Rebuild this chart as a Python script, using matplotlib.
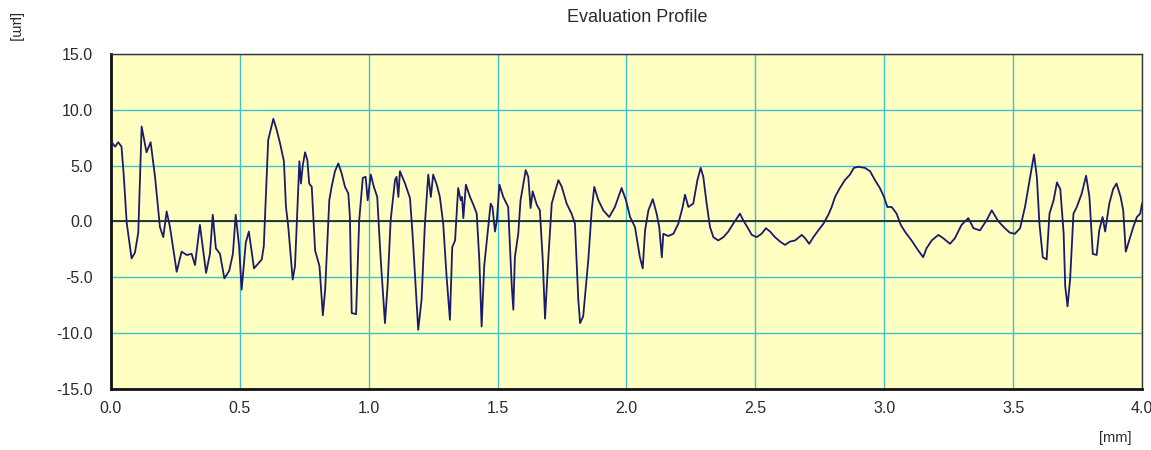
import matplotlib
matplotlib.use("Agg")
import matplotlib.pyplot as plt
import numpy as np

# Evaluation profile: position along the trace [mm] and height [um]
position_mm = [
    0.003, 0.016, 0.028, 0.041, 0.050, 0.061, 0.080, 0.093, 0.106, 0.119,
    0.138, 0.154, 0.171, 0.190, 0.203, 0.216, 0.229, 0.255, 0.274, 0.294,
    0.313, 0.326, 0.345, 0.369, 0.384, 0.395, 0.407, 0.423, 0.440, 0.459,
    0.473, 0.484, 0.497, 0.507, 0.523, 0.535, 0.555, 0.585, 0.593, 0.610,
    0.630, 0.643, 0.656, 0.671, 0.679, 0.688, 0.705, 0.714, 0.723, 0.731,
    0.737, 0.744, 0.753, 0.762, 0.769, 0.779, 0.792, 0.809, 0.822, 0.831,
    0.847, 0.856, 0.869, 0.882, 0.895, 0.908, 0.921, 0.927, 0.934, 0.951,
    0.963, 0.977, 0.988, 0.996, 1.008, 1.020, 1.033, 1.046, 1.063, 1.073,
    1.085, 1.102, 1.108, 1.115, 1.121, 1.141, 1.160, 1.170, 1.192, 1.205,
    1.218, 1.231, 1.241, 1.250, 1.264,
    1.276, 1.289, 1.302, 1.315, 1.324, 1.335, 1.347, 1.357, 1.362, 1.367,
    1.377, 1.393, 1.406, 1.419, 1.429, 1.438, 1.448, 1.461, 1.473, 1.480,
    1.490, 1.497, 1.507, 1.522, 1.541, 1.555, 1.561, 1.567, 1.580, 1.589,
    1.609, 1.619, 1.628, 1.636, 1.652, 1.664, 1.675, 1.684, 1.697, 1.710,
    1.723, 1.736, 1.749, 1.768, 1.787, 1.800, 1.813, 1.820, 1.832, 1.852,
    1.865, 1.875, 1.891, 1.910, 1.933, 1.955,
    1.981, 1.998, 2.014, 2.033, 2.052, 2.063, 2.072, 2.085, 2.102, 2.117,
    2.127, 2.137, 2.143, 2.162, 2.182, 2.201, 2.218, 2.227, 2.240, 2.259,
    2.275, 2.288, 2.298, 2.311, 2.324, 2.337, 2.356, 2.376, 2.395, 2.414,
    2.440, 2.453, 2.469, 2.486, 2.505, 2.524, 2.541, 2.557, 2.576,
    2.596, 2.615, 2.634, 2.654, 2.680, 2.693, 2.709, 2.725, 2.744, 2.764,
    2.783, 2.796, 2.809, 2.828, 2.847, 2.867, 2.882, 2.899, 2.925, 2.945,
    2.964, 2.983, 2.999, 3.012, 3.029, 3.048, 3.064, 3.080, 3.106, 3.132,
    3.151, 3.164, 3.184, 3.210, 3.229,
    3.255, 3.274, 3.300, 3.326, 3.346, 3.371, 3.397, 3.417, 3.443, 3.468,
    3.487, 3.507, 3.527, 3.546, 3.566, 3.581, 3.592, 3.602, 3.615, 3.630,
    3.641, 3.657, 3.670, 3.683, 3.696, 3.702, 3.711, 3.721, 3.734, 3.747,
    3.766, 3.783, 3.796, 3.809, 3.824, 3.834, 3.847, 3.857, 3.873, 3.888,
    3.901, 3.917, 3.927, 3.937, 3.950, 3.966, 3.980, 3.993, 4.000,
]
height_um = [
    7.1, 6.7, 7.1, 6.7, 4.0, -0.1, -3.3, -2.8, -1.0, 8.5,
    6.2, 7.1, 4.0, -0.5, -1.4, 0.9, -0.5, -4.5, -2.7, -3.0,
    -2.9, -3.9, -0.3, -4.6, -2.9, 0.6, -2.4, -2.9, -5.1, -4.4,
    -2.9, 0.6, -2.2, -6.1, -1.9, -0.9, -4.2, -3.4, -2.2, 7.3,
    9.2, 8.2, 7.0, 5.4, 1.3, -0.5, -5.2, -4.0, 1.0, 5.4,
    3.4, 5.0, 6.2, 5.5, 3.4, 3.1, -2.6, -4.0, -8.4, -6.1,
    1.9, 3.1, 4.5, 5.2, 4.3, 3.1, 2.5, 0.4, -8.2, -8.3,
    0.1, 3.9, 4.0, 1.9, 4.2, 3.1, 2.2, -3.2, -9.1, -5.8,
    0.1, 3.7, 4.0, 2.2, 4.5, 3.4, 2.1, -1.1, -9.7, -7.0,
    -0.2, 4.2, 2.2, 4.2, 3.3,
    2.2, -0.2, -4.9, -8.8, -2.3, -1.7, 3.0, 1.9, 2.2, 0.3,
    3.3, 2.2, 1.5, 0.7, -3.4, -9.4, -4.0, -1.1, 1.6, 1.3,
    -0.9, 0.1, 3.3, 2.2, 1.3, -5.8, -7.9, -3.2, -1.1, 1.9,
    4.6, 4.0, 1.2, 2.7, 1.5, 1.0, -3.4, -8.7, -3.2, 1.6,
    2.7, 3.7, 3.1, 1.6, 0.7, -0.2, -7.0, -9.1, -8.5, -3.4,
    1.0, 3.1, 1.9, 1.0, 0.4, 1.3,
    3.0, 1.9, 0.4, -0.5, -3.2, -4.2, -0.8, 1.0, 2.0, 0.7,
    -0.5, -3.2, -1.1, -1.3, -1.1, -0.2, 1.3, 2.4, 1.3, 1.6,
    3.7, 4.8, 4.0, 1.6, -0.5, -1.4, -1.7, -1.4, -0.9, -0.2,
    0.7, 0.1, -0.5, -1.2, -1.4, -1.1, -0.6, -0.9, -1.4,
    -1.8, -2.1, -1.8, -1.7, -1.2, -1.5, -2.0, -1.4, -0.8, -0.2,
    0.6, 1.3, 2.2, 3.0, 3.7, 4.2, 4.8, 4.9, 4.8, 4.5,
    3.7, 3.0, 2.2, 1.3, 1.3, 0.7, -0.3, -0.9, -1.7, -2.6,
    -3.2, -2.4, -1.7, -1.2, -1.5,
    -2.0, -1.5, -0.3, 0.3, -0.6, -0.8, 0.1, 1.0, 0.0, -0.6,
    -1.0, -1.1, -0.6, 1.3, 4.0, 6.0, 4.0, -0.2, -3.2, -3.4,
    0.7, 1.9, 3.5, 2.9, -1.1, -5.8, -7.6, -5.2, 0.7, 1.3,
    2.5, 4.1, 2.2, -2.9, -3.0, -0.8, 0.4, -0.9, 1.6, 2.9,
    3.4, 2.2, 1.0, -2.7, -1.7, -0.5, 0.4, 0.7, 1.6,
]

x_ticks = [0.0, 0.5, 1.0, 1.5, 2.0, 2.5, 3.0, 3.5, 4.0]
y_ticks = [-15.0, -10.0, -5.0, 0.0, 5.0, 10.0, 15.0]

plt.rcParams["font.family"] = ["Liberation Sans", "DejaVu Sans"]

fig = plt.figure(figsize=(11.51, 4.5), dpi=100)
ax = fig.add_axes([0.0964, 0.1356, 0.8958, 0.7444])
ax.set_facecolor("#FFFFC2")

ax.set_xlim(0.0, 4.0)
ax.set_ylim(-15.0, 15.0)
ax.set_xticks(x_ticks)
ax.set_yticks(y_ticks)
ax.set_xticklabels([f"{v:.1f}" for v in x_ticks])
ax.set_yticklabels([f"{v:.1f}" for v in y_ticks])

ax.grid(True, color="#3FBFD0", linewidth=1.0)
ax.set_axisbelow(True)
ax.axhline(0.0, color="#1a1a1a", linewidth=1.2, zorder=2)

ax.plot(position_mm, height_um, color="#1B1B6B", linewidth=1.3, zorder=3)

ax.tick_params(length=0, labelsize=11.5, colors="#2a2a2a")
ax.tick_params(axis="y", pad=13.3)
ax.tick_params(axis="x", pad=9)
for side in ["top", "right"]:
    ax.spines[side].set_linewidth(1.0)
    ax.spines[side].set_color("#333333")
for side in ["left", "bottom"]:
    ax.spines[side].set_linewidth(2.0)
    ax.spines[side].set_color("#111111")

fig.text(0.554, 0.962, "Evaluation Profile", ha="center", va="center",
         fontsize=13, color="#2a2a2a")
fig.text(0.013, 0.94, "[µm]", rotation=270, ha="center", va="center",
         fontsize=10.5, color="#2a2a2a")
fig.text(0.969, 0.027, "[mm]", ha="center", va="center",
         fontsize=10.5, color="#2a2a2a")

fig.savefig("out.png", dpi=100, facecolor="white")
